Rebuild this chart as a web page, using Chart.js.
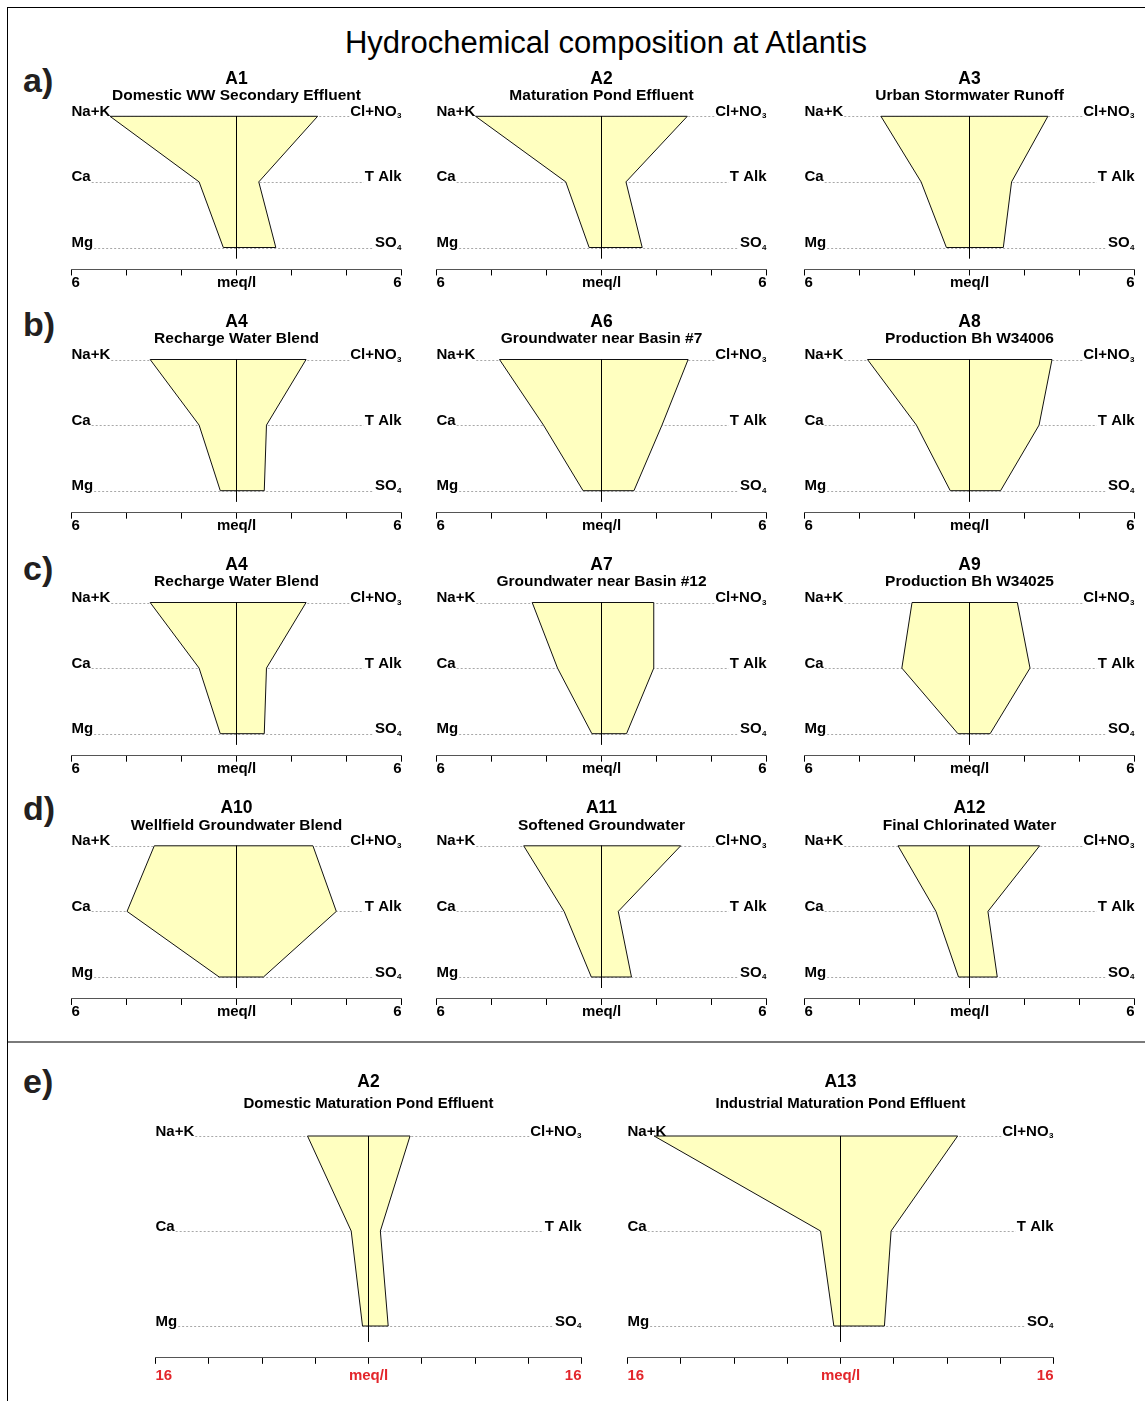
<!DOCTYPE html>
<html>
<head>
<meta charset="utf-8">
<script src="https://cdn.jsdelivr.net/npm/chart.js@4.4.1/dist/chart.umd.min.js"></script>
<style>
html,body{margin:0;padding:0;background:#fff;}
#page{position:relative;width:1145px;height:1401px;overflow:hidden;font-family:"Liberation Sans",Arial,Helvetica,sans-serif;}
.box{position:absolute;}
.txt{position:absolute;white-space:nowrap;color:#000;}
.letter{font-weight:bold;font-size:34px;line-height:34px;color:#231f20;}
</style>
</head>
<body>
<div id="page">
  <div style="position:absolute;left:7px;top:7px;width:1138px;height:1px;background:#000"></div>
  <div style="position:absolute;left:7px;top:7px;width:1px;height:1394px;background:#000"></div>
  <div style="position:absolute;left:8px;top:1041px;width:1137px;height:2px;background:#7a7a7a"></div>
  <div class="txt" id="mainTitle" style="left:0;width:1212px;text-align:center;top:27px;font-size:31px;line-height:31px;"></div>
</div>
<script>
// ---------------- DATA ----------------
const chartTitle = 'Hydrochemical composition at Atlantis';
const rowLetters = ['a)', 'b)', 'c)', 'd)', 'e)'];
const sampleIds = ['A1','A2','A3','A4','A6','A8','A4','A7','A9','A10','A11','A12','A2','A13'];
const sampleNames = [
  'Domestic WW Secondary Effluent','Maturation Pond Effluent','Urban Stormwater Runoff',
  'Recharge Water Blend','Groundwater near Basin #7','Production Bh W34006',
  'Recharge Water Blend','Groundwater near Basin #12','Production Bh W34025',
  'Wellfield Groundwater Blend','Softened Groundwater','Final Chlorinated Water',
  'Domestic Maturation Pond Effluent','Industrial Maturation Pond Effluent'
];
// cations (meq/l), plotted to the left
const naK   = [4.60, 4.58, 3.22, 3.14, 3.71, 3.71, 3.14, 2.52, 2.09, 2.99, 2.83, 2.60, 4.58, 14.0];
const ca    = [1.36, 1.30, 1.76, 1.36, 2.11, 1.93, 1.36, 1.60, 2.46, 3.98, 1.36, 1.22, 1.30, 1.50];
const mg    = [0.48, 0.45, 0.84, 0.59, 0.67, 0.70, 0.59, 0.35, 0.42, 0.63, 0.37, 0.40, 0.45, 0.50];
// anions (meq/l), plotted to the right
const clNO3 = [2.95, 3.12, 2.85, 2.53, 3.15, 3.00, 2.53, 1.90, 1.74, 2.78, 2.88, 2.55, 3.12, 8.80];
const tAlk  = [0.81, 0.89, 1.53, 1.09, 2.20, 2.53, 1.09, 1.90, 2.20, 3.63, 0.61, 0.67, 0.89, 3.80];
const so4   = [1.43, 1.48, 1.23, 1.01, 1.18, 1.13, 1.01, 0.91, 0.75, 0.98, 1.09, 1.01, 1.48, 3.30];
// axis range / tick step per panel
const axisMax  = [6,6,6,6,6,6,6,6,6,6,6,6,16,16];
const axisStep = [2,2,2,2,2,2,2,2,2,2,2,2,4,4];
const axisUnit = 'meq/l';
const cationLabels = ['Na+K', 'Ca', 'Mg'];
const anionLabels  = [['Cl+NO', '3'], ['T Alk', ''], ['SO', '4']];

// ---------------- LAYOUT ----------------
const FONT = '"Liberation Sans", Arial, Helvetica, sans-serif';
const colLeft  = [71.5, 436.5, 804.5];
const colRight = [401.5, 766.5, 1134.5];
const rowY     = [116.3, 359.5, 602.5, 845.8];
const rowUnit  = 65.6;
const eLeft = [155.5, 627.5], eRight = [581.5, 1053.5], eY = 1136, eUnit = 95;
const letterTops = [63, 307, 551, 791, 1064];
const Y_MIN = -0.335, Y_MAX = 2.05;

const page = document.getElementById('page');
document.getElementById('mainTitle').textContent = chartTitle;
rowLetters.forEach((l, i) => {
  const d = document.createElement('div');
  d.className = 'txt letter';
  d.style.left = '23px';
  d.style.top = letterTops[i] + 'px';
  d.textContent = l;
  page.appendChild(d);
});

function rightLabelWidth(ctx, lab, size) {
  ctx.font = `bold ${size}px ${FONT}`;
  const w1 = ctx.measureText(lab[0]).width;
  ctx.font = `bold 8px ${FONT}`;
  const w2 = lab[1] ? ctx.measureText(lab[1]).width + 0.5 : 0;
  return [w1, w2];
}

const stiffDecor = {
  id: 'stiffDecor',
  beforeDatasetsDraw(chart, args, o) {
    const {ctx, chartArea: a, scales: {y}} = chart;
    ctx.save();
    ctx.strokeStyle = '#a8a8a8';
    ctx.lineWidth = 1;
    ctx.setLineDash([2, 2]);
    for (let r = 0; r < 3; r++) {
      const py = Math.round(y.getPixelForValue(2 - r)) + 0.5;
      ctx.font = `bold ${o.labelSize}px ${FONT}`;
      const lw = ctx.measureText(cationLabels[r]).width;
      const [w1, w2] = rightLabelWidth(ctx, anionLabels[r], o.labelSize);
      ctx.beginPath();
      ctx.moveTo(a.left + lw + 1, py);
      ctx.lineTo(a.right - w1 - w2 - 1, py);
      ctx.stroke();
    }
    ctx.restore();
  },
  afterDatasetsDraw(chart, args, o) {
    const {ctx, chartArea: a, scales: {y}} = chart;
    const top = y.getPixelForValue(2);
    const cx = (a.left + a.right) / 2;
    ctx.save();
    ctx.fillStyle = '#000';
    ctx.textAlign = 'center';
    ctx.textBaseline = 'middle';
    ctx.font = `bold ${o.titleSize}px ${FONT}`;
    ctx.fillText(o.title, cx, top + o.titleDy);
    ctx.font = `bold ${o.subSize}px ${FONT}`;
    ctx.fillText(o.subtitle, cx, top + o.subDy);
    ctx.textBaseline = 'alphabetic';
    for (let r = 0; r < 3; r++) {
      const py = y.getPixelForValue(2 - r) - 0.5;
      ctx.font = `bold ${o.labelSize}px ${FONT}`;
      ctx.textAlign = 'left';
      ctx.fillText(cationLabels[r], a.left, py);
      const lab = anionLabels[r];
      const [w1, w2] = rightLabelWidth(ctx, lab, o.labelSize);
      ctx.font = `bold ${o.labelSize}px ${FONT}`;
      ctx.textAlign = 'left';
      ctx.fillText(lab[0], a.right - w1 - w2, py);
      if (lab[1]) {
        ctx.font = `bold 8px ${FONT}`;
        ctx.fillText(lab[1], a.right - w2 + 0.5, py + 2.5);
      }
    }
    ctx.restore();
  }
};

function makePanel(i) {
  let axL, axR, Y, unit, topRoom, titleDy, subDy, subSize, tickPad, tickColor;
  if (i < 12) {
    const r = Math.floor(i / 3), c = i % 3;
    axL = colLeft[c]; axR = colRight[c]; Y = rowY[r]; unit = rowUnit;
    topRoom = 55; titleDy = -37.5; subDy = -20.5; subSize = 15.5; tickPad = -0.5; tickColor = '#000';
  } else {
    const c = i - 12;
    axL = eLeft[c]; axR = eRight[c]; Y = eY; unit = eUnit;
    topRoom = 72; titleDy = -53.5; subDy = -32.5; subSize = 15; tickPad = 5; tickColor = '#e3262b';
  }
  const chartTop = Y - (Y_MAX - 2) * unit;
  const chartBottom = Y + (2 - Y_MIN) * unit;
  const cLeft = Math.floor(axL - 14), cTop = Math.floor(Y - topRoom);
  const cRight = Math.ceil(axR + 14);
  const axisH = 30, padB = 8;
  const cW = cRight - cLeft;
  const cH = Math.ceil(chartBottom + axisH + padB) - cTop;
  const box = document.createElement('div');
  box.className = 'box';
  box.style.left = cLeft + 'px'; box.style.top = cTop + 'px';
  box.style.width = cW + 'px'; box.style.height = cH + 'px';
  const canvas = document.createElement('canvas');
  box.appendChild(canvas);
  page.appendChild(box);

  const m = axisMax[i];
  const shape = [
    {x: -naK[i], y: 2}, {x: -ca[i], y: 1}, {x: -mg[i], y: 0},
    {x: so4[i], y: 0}, {x: tAlk[i], y: 1}, {x: clNO3[i], y: 2}, {x: -naK[i], y: 2}
  ];
  new Chart(canvas, {
    type: 'line',
    data: {
      datasets: [
        { data: [{x: 0, y: 2}, {x: 0, y: -0.165}], borderColor: '#000', borderWidth: 1, fill: false, order: 0, pointRadius: 0 },
        { data: shape, borderColor: '#111', borderWidth: 1, backgroundColor: '#ffffc0', fill: 'shape', order: 1, pointRadius: 0, tension: 0 }
      ]
    },
    plugins: [stiffDecor],
    options: {
      responsive: true,
      maintainAspectRatio: false,
      animation: false,
      events: [],
      layout: { padding: { left: axL - cLeft, right: cRight - axR, top: chartTop - cTop, bottom: cTop + cH - chartBottom - axisH } },
      plugins: {
        legend: { display: false },
        tooltip: { enabled: false },
        stiffDecor: { title: sampleIds[i], subtitle: sampleNames[i], titleDy, subDy, titleSize: 17.5, subSize, labelSize: 15 }
      },
      scales: {
        x: {
          type: 'linear', min: -m, max: m,
          afterFit: s => { s.height = axisH; },
          ticks: {
            stepSize: axisStep[i], autoSkip: false, maxRotation: 0, minRotation: 0,
            align: 'inner',
            padding: tickPad, color: tickColor,
            font: { family: FONT, size: 15, weight: 'bold', lineHeight: 1 },
            callback: v => v === 0 ? axisUnit : (Math.abs(v) === m ? String(m) : '')
          },
          grid: { display: true, drawOnChartArea: false, drawTicks: true, tickLength: 6, color: '#000', lineWidth: 1 },
          border: { display: true, color: '#555', width: 1 }
        },
        y: { type: 'linear', display: false, min: Y_MIN, max: Y_MAX }
      }
    }
  });
}

for (let i = 0; i < sampleIds.length; i++) makePanel(i);
</script>
</body>
</html>
